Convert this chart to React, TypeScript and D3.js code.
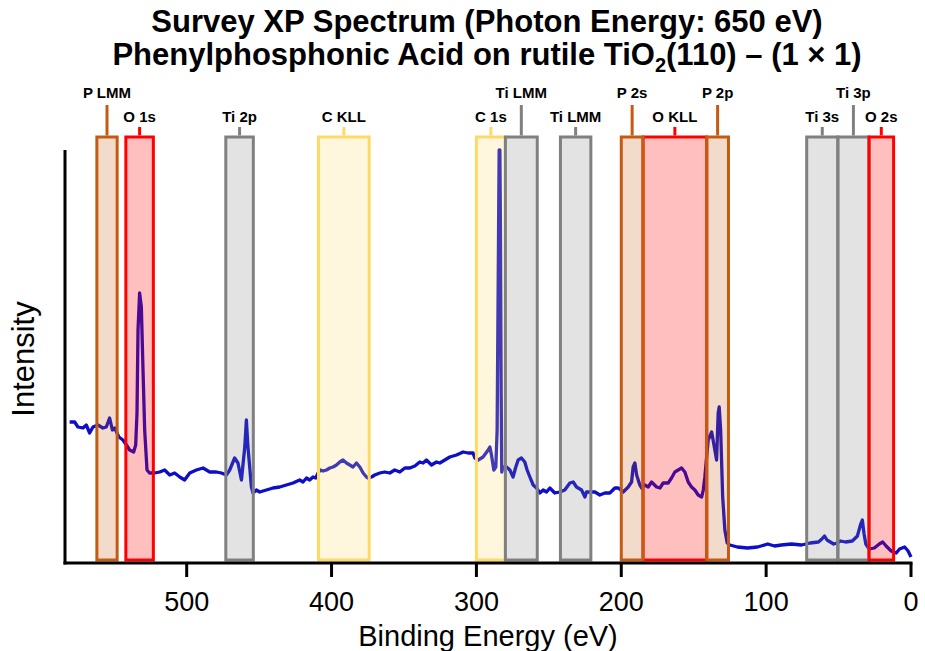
import React from 'react';
import * as d3 from 'd3';

// spectrum (binding energy in eV, intensity in arbitrary counts)
const bindingEnergy = [
  580.8, 577.3, 575.1, 571.6, 569.3, 567.0, 564.7, 561.3, 557.8, 555.5, 553.2, 551.3, 549.7, 546.8, 544.0, 541.6,
  539.4, 536.6, 535.2, 534.3, 533.6, 532.5, 531.3, 530.2, 529.0, 527.4, 525.6, 522.1, 518.6, 515.2, 511.7, 508.3,
  504.8, 501.4, 497.9, 493.3, 488.7, 484.1, 479.5, 476.0, 472.6, 470.3, 466.9, 464.6, 462.2, 459.9, 458.8, 457.7,
  455.3, 454.2, 451.9, 449.6, 445.0, 440.4, 435.8, 431.2, 426.6, 422.0, 419.7, 417.3, 415.1, 412.8, 410.9, 409.3,
  407.7, 405.9, 403.5, 401.2, 399.0, 396.6, 394.3, 392.1, 389.7, 387.4, 385.2, 382.8, 380.5, 378.2, 375.9, 374.8,
  372.4, 370.2, 366.7, 363.3, 359.8, 356.4, 352.9, 349.4, 346.0, 342.5, 339.1, 336.8, 334.5, 331.0, 327.6, 325.3,
  321.8, 318.4, 313.7, 309.2, 305.7, 302.3, 301.1, 298.8, 295.4, 291.9, 290.7, 289.6, 288.0, 286.6, 285.7, 284.7,
  284.3, 283.8, 283.4, 282.9, 282.5, 281.6, 279.2, 276.9, 274.7, 272.8, 271.2, 268.9, 266.6, 265.0, 263.1, 260.8,
  258.5, 256.2, 253.9, 251.6, 249.3, 245.9, 242.4, 239.0, 235.5, 233.2, 230.9, 227.4, 225.1, 224.0, 221.7, 218.2,
  214.8, 211.3, 207.9, 204.4, 202.1, 198.7, 195.2, 192.9, 191.8, 190.6, 189.4, 187.2, 186.0, 183.7, 181.4, 179.1,
  175.6, 173.3, 171.1, 167.6, 165.3, 163.0, 160.7, 158.4, 156.1, 153.8, 151.5, 149.2, 146.9, 144.5, 143.4, 142.3,
  140.0, 137.6, 135.4, 134.2, 133.1, 132.4, 131.4, 130.0, 128.5, 126.9, 125.0, 119.9, 112.8, 105.9, 98.9, 94.2,
  89.5, 82.5, 75.6, 69.7, 63.9, 61.5, 59.7, 58.0, 55.7, 53.4, 51.0, 48.7, 45.2, 40.5, 37.0, 34.7,
  33.6, 32.4, 31.2, 28.9, 25.3, 21.9, 19.5, 17.2, 13.7, 10.2, 7.9, 4.4, 2.0, 0.0,
];
const intensity = [
  141, 141, 136, 135, 138, 130, 136, 138, 135, 136, 145, 133, 135, 126, 123, 118,
  113, 111, 118, 150, 233, 270, 256, 196, 133, 93, 90, 90, 91, 93, 88, 90,
  86, 83, 90, 93, 95, 91, 91, 90, 88, 93, 105, 100, 83, 116, 143, 116,
  76, 70, 73, 71, 73, 75, 76, 78, 80, 83, 81, 85, 83, 86, 85, 90,
  93, 92, 93, 95, 96, 98, 101, 103, 100, 98, 96, 100, 96, 90, 86, 85,
  86, 88, 90, 91, 90, 93, 91, 95, 95, 97, 101, 100, 103, 98, 101, 100,
  103, 106, 108, 111, 110, 110, 105, 103, 106, 113, 116, 108, 93, 96, 133, 333,
  413, 413, 333, 166, 91, 96, 96, 93, 86, 96, 103, 105, 101, 93, 86, 78,
  75, 70, 73, 71, 75, 70, 71, 73, 80, 81, 76, 73, 66, 71, 71, 71,
  68, 70, 70, 75, 75, 71, 76, 81, 96, 100, 88, 78, 75, 78, 76, 81,
  76, 75, 80, 80, 85, 91, 93, 95, 91, 81, 76, 73, 68, 66, 73, 86,
  123, 131, 113, 103, 150, 156, 133, 66, 33, 20, 18, 16, 15, 16, 19, 17,
  18, 19, 18, 20, 21, 24, 27, 23, 21, 19, 20, 22, 21, 22, 27, 39,
  43, 29, 19, 14, 15, 19, 21, 17, 12, 10, 14, 16, 12, 6,
];

// highlighted core levels / Auger regions (in drawing order)
const regionLabels = ['P LMM', 'O 1s', 'Ti 2p', 'C KLL', 'C 1s', 'Ti LMM', 'Ti LMM', 'O KLL', 'P 2s', 'P 2p', 'Ti 3s', 'Ti 3p', 'O 2s'];
const regionFrom = [562, 542, 473, 409, 300, 280, 242, 185, 200, 141, 72, 50.5, 29];
const regionTo = [548, 523, 454, 374, 280, 258, 221, 141, 185, 126, 50.5, 29, 12];
const regionElement = ['P', 'O', 'Ti', 'C', 'C', 'Ti', 'Ti', 'O', 'P', 'P', 'Ti', 'Ti', 'O'];
const regionRaised = [true, false, false, false, false, true, false, false, true, true, false, true, false];

const xTicks = [500, 400, 300, 200, 100, 0];

const elementColor: Record<string, string> = { P: '#c55a11', O: '#ff0000', Ti: '#808080', C: '#ffd966' };
const elementOpacity: Record<string, number> = { P: 0.22, O: 0.25, Ti: 0.22, C: 0.22 };

const font = '"Liberation Sans", Arial, sans-serif';

export default function App() {
  const width = 925, height = 651;
  const left = 65, right = 911, top = 150, bottom = 563;
  const boxTop = 137, boxBottom = 560;

  const x = d3.scaleLinear().domain([584, 0]).range([left, right]);
  const y = d3.scaleLinear().domain([0, 413]).range([bottom, top]);

  const pts = bindingEnergy.map((e, i) => [e, intensity[i]] as [number, number]);
  const line = d3.line<[number, number]>()
    .x(d => x(d[0]))
    .y(d => y(d[1]));

  return (
    <svg width={width} height={height} style={{ position: 'absolute', left: 0, top: 0 }} fontFamily={font}>
      <rect width={width} height={height} fill="#fff" />

      <text x={487} y={32} textAnchor="middle" fontSize={31} fontWeight="bold">
        Survey XP Spectrum (Photon Energy: 650 eV)
      </text>
      <text x={487} y={65} textAnchor="middle" fontSize={31} fontWeight="bold">
        Phenylphosphonic Acid on rutile TiO<tspan fontSize={20} dy={7}>2</tspan><tspan dy={-7}>(110) – (1 × 1)</tspan>
      </text>

      <path d={line(pts) || ''} fill="none" stroke="#0e0ec8" strokeWidth={3.3} strokeLinejoin="round" />

      {regionLabels.map((lab, i) => {
        const x0 = x(regionFrom[i]), x1 = x(regionTo[i]);
        const c = elementColor[regionElement[i]];
        const cx = (x0 + x1) / 2;
        const raised = regionRaised[i];
        return (
          <g key={i}>
            <rect x={x0} y={boxTop} width={x1 - x0} height={boxBottom - boxTop}
              fill={c} fillOpacity={elementOpacity[regionElement[i]]} stroke={c} strokeWidth={3} />
            <line x1={cx} x2={cx} y1={raised ? 105 : 127} y2={boxTop - 1.5} stroke={c} strokeWidth={3} />
            <text x={cx} y={raised ? 98 : 122} textAnchor="middle" fontSize={15} fontWeight="bold">{lab}</text>
          </g>
        );
      })}

      <line x1={left} x2={left} y1={top} y2={bottom + 1.5} stroke="#000" strokeWidth={3} />
      <line x1={left - 1.5} x2={right + 1.5} y1={bottom} y2={bottom} stroke="#000" strokeWidth={3} />
      {xTicks.map(t => (
        <g key={t}>
          <line x1={x(t)} x2={x(t)} y1={bottom} y2={bottom + 14} stroke="#000" strokeWidth={3} />
          <text x={x(t)} y={611} textAnchor="middle" fontSize={27}>{t}</text>
        </g>
      ))}

      <text x={488} y={646} textAnchor="middle" fontSize={29}>Binding Energy (eV)</text>
      <text transform="translate(34,359) rotate(-90)" textAnchor="middle" fontSize={31}>Intensity</text>
    </svg>
  );
}
